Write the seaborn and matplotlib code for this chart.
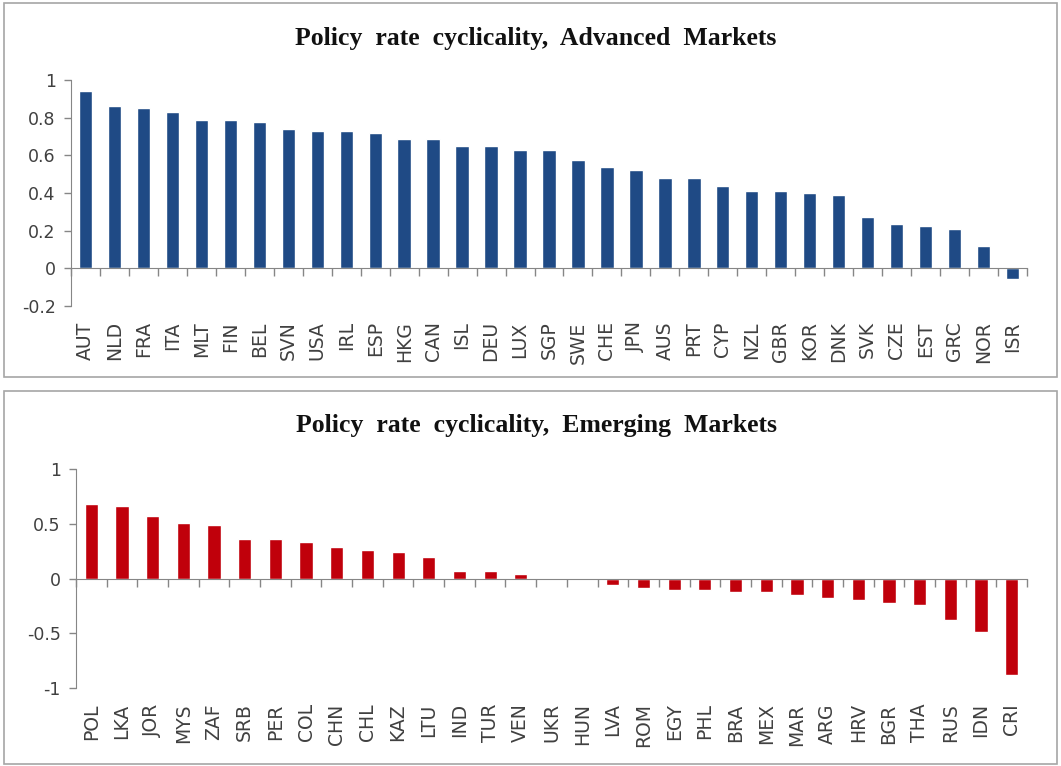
import numpy as np
import matplotlib
matplotlib.use("Agg")
import matplotlib.pyplot as plt
from matplotlib.patches import Rectangle
from matplotlib.ticker import FixedLocator, FuncFormatter
import pandas as pd
import seaborn as sns

# Advanced markets
adv_countries = ["AUT", "NLD", "FRA", "ITA", "MLT", "FIN", "BEL", "SVN", "USA", "IRL",
                 "ESP", "HKG", "CAN", "ISL", "DEU", "LUX", "SGP", "SWE", "CHE", "JPN",
                 "AUS", "PRT", "CYP", "NZL", "GBR", "KOR", "DNK", "SVK", "CZE", "EST",
                 "GRC", "NOR", "ISR"]
adv_values = [0.94, 0.86, 0.85, 0.83, 0.785, 0.785, 0.775, 0.74, 0.73, 0.73,
              0.72, 0.685, 0.685, 0.65, 0.65, 0.63, 0.63, 0.575, 0.54, 0.52,
              0.48, 0.48, 0.435, 0.41, 0.41, 0.40, 0.39, 0.27, 0.235, 0.225,
              0.207, 0.117, -0.055]

# Emerging markets
em_countries = ["POL", "LKA", "JOR", "MYS", "ZAF", "SRB", "PER", "COL", "CHN", "CHL",
                "KAZ", "LTU", "IND", "TUR", "VEN", "UKR", "HUN", "LVA", "ROM", "EGY",
                "PHL", "BRA", "MEX", "MAR", "ARG", "HRV", "BGR", "THA", "RUS", "IDN",
                "CRI"]
em_values = [0.68, 0.665, 0.57, 0.505, 0.49, 0.365, 0.365, 0.335, 0.29, 0.26,
             0.24, 0.195, 0.07, 0.07, 0.045, 0.0, 0.0, -0.057, -0.087, -0.105,
             -0.105, -0.12, -0.12, -0.15, -0.18, -0.2, -0.226, -0.244, -0.38, -0.49,
             -0.88]

adv_ticks = [1, 0.8, 0.6, 0.4, 0.2, 0, -0.2]
em_ticks = [1, 0.5, 0, -0.5, -1]

sns.set_style("white")
plt.rcParams["font.family"] = ["DejaVu Sans"]

fig = plt.figure(figsize=(10.61, 7.66), dpi=100)

# panel frames
for y0, h in [(1 - 377 / 766, 374 / 766), (1 - 764 / 766, 373 / 766)]:
    fig.patches.append(Rectangle((4 / 1061, y0), 1053 / 1061, h, transform=fig.transFigure,
                                 fill=False, edgecolor="#a6a6a6", linewidth=1.2))

axes_specs = [
    (adv_countries, adv_values, adv_ticks, "#1f4a85", 0.46,
     [71 / 1061, 1 - 306 / 766, (1027 - 71) / 1061, (306 - 80) / 766],
     "Policy  rate  cyclicality,  Advanced  Markets", 1 - 38 / 766),
    (em_countries, em_values, em_ticks, "#c0000b", 0.43,
     [76 / 1061, 1 - 688 / 766, (1027 - 76) / 1061, (688 - 469) / 766],
     "Policy  rate  cyclicality,  Emerging  Markets", 1 - 425 / 766),
]

grey = "#868686"
for countries, values, ticks, color, width, rect, title, ty in axes_specs:
    ax = fig.add_axes(rect)
    df = pd.DataFrame({"country": countries, "value": values})
    sns.barplot(data=df, x="country", y="value", color=color, width=width,
                saturation=1, ax=ax)
    n = len(countries)
    ax.set_xlim(-0.5, n - 0.5)
    ax.set_ylim(min(ticks), max(ticks))
    ax.set_xlabel("")
    ax.set_ylabel("")

    # zero axis line drawn with the top spine, category boundary ticks below it
    ax.spines["top"].set_position(("data", 0))
    ax.spines["top"].set_color(grey)
    ax.spines["bottom"].set_visible(False)
    ax.spines["right"].set_visible(False)
    ax.spines["left"].set_color(grey)
    ax.xaxis.set_minor_locator(FixedLocator(np.arange(n + 1) - 0.5))
    ax.tick_params(axis="x", which="minor", top=True, bottom=False, direction="in",
                   length=6, color=grey, width=1)
    ax.tick_params(axis="x", which="major", length=0, labelsize=13.5,
                   labelcolor="#404040", rotation=90, pad=11)

    ax.yaxis.set_major_locator(FixedLocator(ticks))
    ax.yaxis.set_major_formatter(FuncFormatter(lambda v, p: f"{v:g}"))
    ax.tick_params(axis="y", length=5, color=grey, width=1, labelsize=12.5,
                   labelcolor="#404040", left=True, pad=6)
    ax.patch.set_alpha(0)

    fig.text(536 / 1061, ty, title, ha="center", va="center", fontsize=18.5,
             fontweight="bold", family="Liberation Serif", color="#111111")

fig.savefig("out.png", dpi=100)
